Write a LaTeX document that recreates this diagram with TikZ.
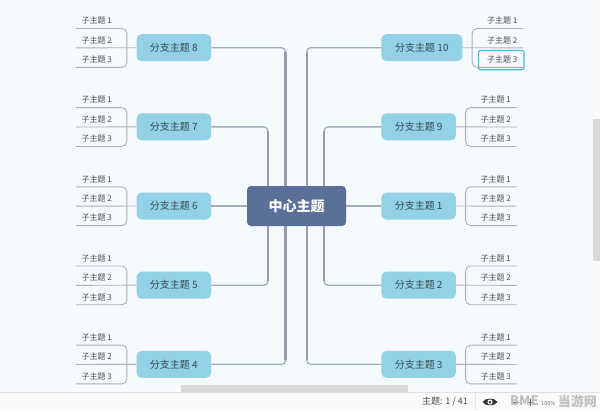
\documentclass[tikz,border=0pt]{standalone}
\usepackage{fontspec}
\setmainfont{Noto Sans CJK SC}
\usetikzlibrary{positioning,calc}
\definecolor{pagebg}{HTML}{F5FAFF}
\definecolor{barbg}{HTML}{FAFAFA}
\definecolor{thumbgray}{HTML}{D8D8D8}
\definecolor{centerblue}{HTML}{5A7099}
\definecolor{branchblue}{HTML}{93D1E6}
\definecolor{trunkgray}{HTML}{939EB0}
\definecolor{subgray}{HTML}{ABB0BA}
\definecolor{pickcyan}{HTML}{4DB8DC}
\begin{document}
\begin{tikzpicture}[
  x=1pt,y=1pt,
  centertopic/.style={rounded corners=4pt,fill=centerblue,text=white,font=\fontsize{14}{16}\selectfont\bfseries,minimum width=99pt,minimum height=40pt,inner sep=0pt},
  branchtopic/.style={rounded corners=5pt,fill=branchblue,text=black!65!branchblue,font=\fontsize{10}{12}\selectfont,minimum width=74.5pt,minimum height=27pt,inner sep=0pt},
  subtopic/.style={text=black!70,font=\fontsize{8}{10}\selectfont,minimum width=41pt,text height=14.5pt,text depth=4.5pt,inner sep=0pt},
  trunkthin/.style={draw=trunkgray!85,line width=1.3pt,rounded corners=4pt},
  trunkthick/.style={draw=trunkgray,line width=2.4pt},
  subline/.style={draw=subgray,line width=0.9pt,rounded corners=5pt},
  statustext/.style={text=black!70,font=\fontsize{9}{11}\selectfont,inner sep=0pt},
  marktext/.style={text=black!25,font=\fontsize{13}{15}\selectfont\bfseries,inner sep=0pt}
]
\useasboundingbox (0,0) rectangle (600,-410);
\fill[pagebg] (0,0) rectangle (600,-410);

\node (center) [centertopic] at (296.5,-206) {中心主题};

\node (b6) [branchtopic,left=35.5pt of center] {分支主题 6};
\node (b7) [branchtopic,above=51.75pt of b6] {分支主题 7};
\node (b8) [branchtopic,above=51.75pt of b7] {分支主题 8};
\node (b5) [branchtopic,below=51.75pt of b6] {分支主题 5};
\node (b4) [branchtopic,below=51.75pt of b5] {分支主题 4};

\node (b1) [branchtopic,right=35pt of center] {分支主题 1};
\node (b9) [branchtopic,above=51.75pt of b1] {分支主题 9};
\node (b10) [branchtopic,minimum width=81pt,above=51.75pt of b9.north west,anchor=south west] {分支主题 10};
\node (b2) [branchtopic,below=51.75pt of b1] {分支主题 2};
\node (b3) [branchtopic,below=51.75pt of b2] {分支主题 3};

% sub topics, left side
\foreach \b in {b8,b7,b6,b5,b4} {
  \node (\b-2) [subtopic,left=19pt of \b,yshift=9.5pt] {子主题 2};
  \node (\b-1) [subtopic,above=0pt of \b-2] {子主题 1};
  \node (\b-3) [subtopic,below=0pt of \b-2] {子主题 3};
  \coordinate (\b-fork) at ([xshift=-9.5pt]\b.west);
  \draw[subline] (\b.west) -- (\b-2.south west);
  \draw[subline] (\b-fork) |- (\b-1.south west);
  \draw[subline] (\b-fork) |- (\b-3.south west);
}
% sub topics, right side
\foreach \b in {b10,b9,b1,b2,b3} {
  \node (\b-2) [subtopic,right=19pt of \b,yshift=9.5pt] {子主题 2};
  \node (\b-1) [subtopic,above=0pt of \b-2] {子主题 1};
  \node (\b-3) [subtopic,below=0pt of \b-2] {子主题 3};
  \coordinate (\b-fork) at ([xshift=9.5pt]\b.east);
  \draw[subline] (\b.east) -- (\b-2.south east);
  \draw[subline] (\b-fork) |- (\b-1.south east);
  \draw[subline] (\b-fork) |- (\b-3.south east);
}
\draw[pickcyan,line width=1.2pt,rounded corners=2pt] ([xshift=-3pt,yshift=-2.5pt]b10-3.south west) rectangle ([xshift=1pt,yshift=-2.5pt]b10-3.north east);

% main connectors
\coordinate (t8) at (285.5,-186);
\coordinate (t7) at (268,-186);
\coordinate (t5) at (268,-226);
\coordinate (t4) at (285.5,-226);
\coordinate (t10) at (306.7,-186);
\coordinate (t9) at (324,-186);
\coordinate (t2) at (324,-226);
\coordinate (t3) at (306.7,-226);
\foreach \t/\b in {t8/b8,t7/b7,t5/b5,t4/b4} {
  \draw[trunkthin] (\b.east) -| (\t);
  \draw[trunkthick,shorten >=4pt] (\t) -- (\t |- \b.east);
}
\foreach \t/\b in {t10/b10,t9/b9,t2/b2,t3/b3} {
  \draw[trunkthin] (\b.west) -| (\t);
  \draw[trunkthick,shorten >=4pt] (\t) -- (\t |- \b.west);
}
\draw[trunkthin] (b6) -- (center);
\draw[trunkthin] (b1) -- (center);

% window parts
\fill[barbg] (0,-392) rectangle (600,-410);
\fill[pagebg!60!white] (0,-385) rectangle (593,-392);
\fill[thumbgray] (181,-385) rectangle (408,-392);
\fill[barbg] (593,0) rectangle (600,-392);
\fill[thumbgray] (593,-119) rectangle (600,-261);
\draw[black!12,line width=0.6pt] (0,-392.5) -- (600,-392.5);
\draw[black!10,line width=0.6pt] (475,-393) -- (475,-410);
\node (status) [statustext,anchor=west] at (422,-402) {主题: 1 / 41};
\fill[black!80] (482.5,-402) .. controls (485,-397.5) and (495,-397.5) .. (497.5,-402) .. controls (495,-406.5) and (485,-406.5) .. (482.5,-402) -- cycle;
\fill[white] (490,-402) circle (2.6);
\fill[black!80] (490,-402) circle (1.5);
\draw[black!60,line width=1pt] (512,-402) -- (519,-402) (527,-402) -- (534,-402) (530.5,-398.5) -- (530.5,-405.5);
\node (mark) [marktext,anchor=west] at (510,-401) {BME};
\node (zoomlevel) [statustext,text=black!55,font=\fontsize{5.5}{7}\selectfont,anchor=west] at (541,-403) {100\%};
\node (markcn) [marktext,anchor=east] at (597,-401) {当游网};
\end{tikzpicture}
\end{document}
